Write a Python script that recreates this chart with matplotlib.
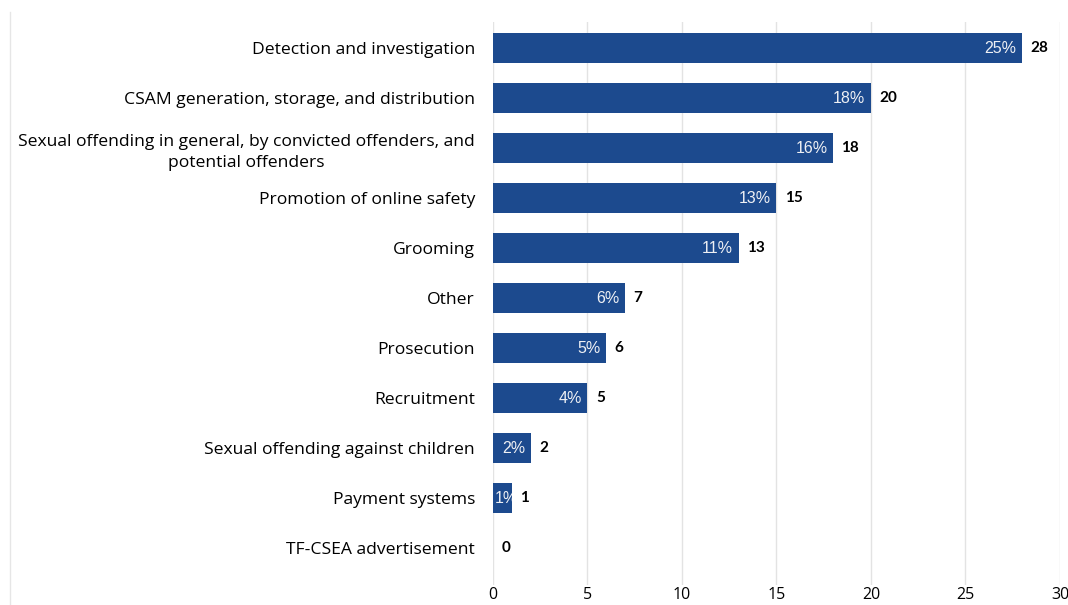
import matplotlib
matplotlib.use('Agg')
import matplotlib.pyplot as plt
from matplotlib.lines import Line2D

categories = [
    'Detection and investigation',
    'CSAM generation, storage, and distribution',
    'Sexual offending in general, by convicted offenders, and\npotential offenders',
    'Promotion of online safety',
    'Grooming',
    'Other',
    'Prosecution',
    'Recruitment',
    'Sexual offending against children',
    'Payment systems',
    'TF-CSEA advertisement',
]
counts = [28, 20, 18, 15, 13, 7, 6, 5, 2, 1, 0]
shares = ['25%', '18%', '16%', '13%', '11%', '6%', '5%', '4%', '2%', '1%', '']
xticks = [0, 5, 10, 15, 20, 25, 30]

bar_color = '#1c4a8e'

fig = plt.figure(figsize=(10.68, 6.05), dpi=100)
ax = fig.add_axes([0.4616, 0.033, 0.9925 - 0.4616, 0.9636 - 0.033])

y = list(range(len(categories)))
bars = ax.barh(y, counts, height=0.6, color=bar_color, zorder=3)

for bar, yi, c, s in zip(bars, y, counts, shares):
    if s:
        if c >= 2:
            ax.annotate(s, (c, yi), xytext=(-4, 0), textcoords='offset points',
                        ha='right', va='center', color='#eef0f4', fontsize=11.5,
                        family='Liberation Sans', zorder=4)
        else:
            # narrow bar: label starts at the bar base and is cut by the bar
            t = ax.annotate(s, (0, yi), xytext=(1, 0), textcoords='offset points',
                            ha='left', va='center', color='#eef0f4', fontsize=11.5,
                            family='Liberation Sans', zorder=4)
            t.set_clip_path(bar)
    ax.annotate(str(c), (c, yi), xytext=(6, 0), textcoords='offset points',
                ha='left', va='center', color='black', fontsize=11,
                fontweight='bold', family='Lato', zorder=4)

ax.set_xlim(0, 30)
ax.set_ylim(10.74, -0.52)
ax.set_xticks(xticks)
ax.set_xticklabels([str(t) for t in xticks], family='Open Sans', fontsize=11.5)
ax.set_yticks(y)
ax.set_yticklabels(categories, family='Open Sans', fontsize=12.6,
                   multialignment='center', linespacing=1.45)
ax.tick_params(axis='both', length=0)
ax.tick_params(axis='y', pad=13)
ax.tick_params(axis='x', pad=1.5)
ax.grid(axis='x', color='#e3e3e3', linewidth=1, zorder=0)
for sp in ax.spines.values():
    sp.set_visible(False)

# faint frame line on the left of the image
fig.add_artist(Line2D([0.0095, 0.0095], [0.0, 0.98], color='#e6e6e6',
                      linewidth=1, transform=fig.transFigure))

fig.savefig('out.png', dpi=100, facecolor='white')
